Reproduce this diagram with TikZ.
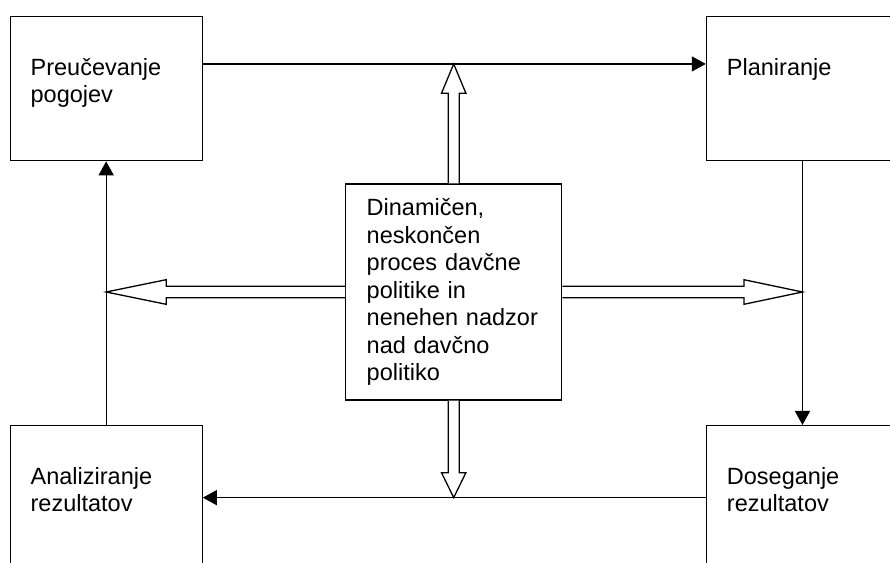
\documentclass[tikz,border=0pt]{standalone}
\usepackage{fontspec}
\setmainfont{Liberation Sans}
\usetikzlibrary{positioning,arrows.meta}
\tikzset{
    corner/.style={rectangle,draw=black,line width=1.3pt,anchor=north west,align=left,text width=151pt,inner xsep=20.5pt,inner ysep=0pt,text height=58.5pt,text depth=85.5pt,font={\fontsize{23.5}{27.5}\selectfont}},
    process/.style={rectangle,draw=black,line width=1.3pt,align=left,text width=174pt,inner xsep=21pt,minimum height=216pt,font={\fontsize{23.5}{27.5}\selectfont}},
    link/.style={line width=1.3pt,-{Triangle[length=14pt,width=15pt]}},
    hollow/.style={draw=black,fill=white,line width=1.3pt,line join=miter},
}

\begin{document}
\begin{tikzpicture}[x=1pt,y=1pt]
\useasboundingbox (0,0) rectangle (890,562);
\clip (0,0) rectangle (890,562);
\node[corner](tl) at (9.5,546) {Preučevanje\\pogojev};
\node[corner](tr) [right =503pt of tl] {Planiranje};
\node[corner](bl) [below =263.7pt of tl] {Analiziranje\\rezultatov};
\node[corner](br) [right =503pt of bl] {Doseganje\\rezultatov};
\node[process](c) at (453.7,270) {Dinamičen,\\neskončen\\proces davčne\\politike in\\nenehen nadzor\\nad davčno\\politiko};
% cycle of steps
\coordinate (tla) at ([yshift=24.7pt]tl.east);
\draw[link] (tla) -- (tla -| tr.west);
\draw[link] (tr.south) -- (br.north);
\draw[link] (br.west) -- (bl.east);
\draw[link] (bl.north) -- (tl.south);
% hollow arrows from the centre
\coordinate (uptip) at (tla -| c.north);
\coordinate (dntip) at (bl.east -| c.south);
\coordinate (lftip) at (c.west -| bl.north);
\coordinate (rttip) at (c.east -| br.north);
\draw[hollow] ([xshift=-5.5pt]c.north) -- ([xshift=-5.5pt,yshift=-29.3pt]uptip) -- ([xshift=-12.2pt,yshift=-29.3pt]uptip) -- (uptip) -- ([xshift=12.2pt,yshift=-29.3pt]uptip) -- ([xshift=5.5pt,yshift=-29.3pt]uptip) -- ([xshift=5.5pt]c.north);
\draw[hollow] ([xshift=-5.5pt]c.south) -- ([xshift=-5.5pt,yshift=25pt]dntip) -- ([xshift=-12.2pt,yshift=25pt]dntip) -- (dntip) -- ([xshift=12.2pt,yshift=25pt]dntip) -- ([xshift=5.5pt,yshift=25pt]dntip) -- ([xshift=5.5pt]c.south);
\draw[hollow] ([yshift=5.8pt]c.west) -- ([xshift=60pt,yshift=5.8pt]lftip) -- ([xshift=60pt,yshift=12.3pt]lftip) -- (lftip) -- ([xshift=60pt,yshift=-12.3pt]lftip) -- ([xshift=60pt,yshift=-5.8pt]lftip) -- ([yshift=-5.8pt]c.west);
\draw[hollow] ([yshift=5.8pt]c.east) -- ([xshift=-58.5pt,yshift=5.8pt]rttip) -- ([xshift=-58.5pt,yshift=12.3pt]rttip) -- (rttip) -- ([xshift=-58.5pt,yshift=-12.3pt]rttip) -- ([xshift=-58.5pt,yshift=-5.8pt]rttip) -- ([yshift=-5.8pt]c.east);
\end{tikzpicture}
\end{document}
